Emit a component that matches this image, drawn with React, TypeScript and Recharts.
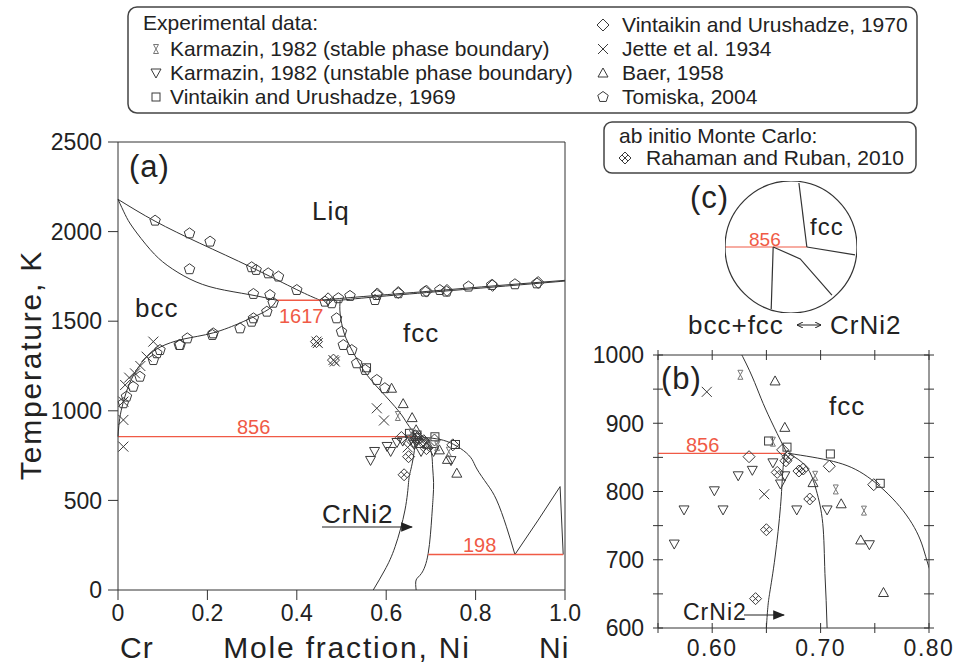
import React from "react";
import { ComposedChart, Line, Scatter, XAxis, YAxis, ReferenceDot } from "recharts";

// phase boundaries: [mole fraction Ni, temperature K]
const liquidusCr = [[0, 2180], [0.083, 2058], [0.183, 1935], [0.299, 1800], [0.4, 1676], [0.452, 1617]];
const solidusBcc = [[0, 2180], [0.016, 2095], [0.034, 2020], [0.072, 1900], [0.11, 1812], [0.161, 1735], [0.22, 1683], [0.295, 1648], [0.355, 1617]];
const liquidusNi = [[0.452, 1617], [0.55, 1638], [0.7, 1668], [0.85, 1699], [1, 1728]];
const solidusFcc = [[0.497, 1617], [0.6, 1641], [0.75, 1672], [0.9, 1703], [1, 1724]];
const eutecticBlack = [[0.452, 1617], [0.497, 1617]];
const bccSolvus = [[0.355, 1617], [0.336, 1565], [0.3, 1520], [0.273, 1490], [0.213, 1435], [0.146, 1400], [0.094, 1355], [0.06, 1290], [0.035, 1200], [0.018, 1100], [0.007, 1000], [0.002, 920], [0, 856]];
const fccSolvus = [[0.497, 1617], [0.497, 1540], [0.505, 1440], [0.519, 1360], [0.549, 1228], [0.586, 1116], [0.628, 998], [0.647, 929], [0.669, 856]];
const crNi2Left = [[0.667, 856], [0.665, 827], [0.663, 778], [0.658, 704], [0.653, 651], [0.65, 600], [0.642, 446], [0.62, 242], [0.597, 112], [0.571, 0]];
const crNi2Right = [[0.67, 856], [0.687, 836], [0.696, 802], [0.702, 753], [0.704, 680], [0.706, 600], [0.705, 520], [0.702, 409], [0.694, 205], [0.679, 93], [0.667, 56], [0.667, 0]];
const fccNiSide = [[0.67, 856], [0.712, 844], [0.743, 822], [0.773, 778], [0.792, 729], [0.803, 675], [0.826, 590], [0.847, 502], [0.869, 353], [0.888, 198]];
const magnetic = [[0.888, 198], [0.94, 390], [0.989, 577], [0.996, 198]];
const red1617 = [[0.355, 1617], [0.458, 1617]];
const red856 = [[0, 856], [0.668, 856]];
const red198 = [[0.694, 198], [0.996, 198]];

// experimental data
const karmazinStable = [[0.626, 971], [0.656, 873], [0.695, 823], [0.714, 803], [0.74, 772]];
const karmazinUnstable = [[0.565, 723], [0.574, 773], [0.602, 801], [0.61, 773], [0.624, 823], [0.637, 831], [0.656, 842], [0.663, 811], [0.667, 823], [0.678, 773], [0.706, 773], [0.745, 722]];
const vintaikin1969 = [[0.556, 1240], [0.652, 874], [0.669, 865], [0.709, 855], [0.755, 812]];
const vintaikin1970 = [[0.634, 851], [0.665, 861], [0.708, 837], [0.749, 810], [0.47, 1625], [0.58, 1652], [0.627, 1660], [0.69, 1668], [0.736, 1672], [0.838, 1700], [0.94, 1716], [0.444, 1386], [0.482, 1283]];
const jette = [[0.595, 946], [0.648, 796], [0.079, 1386], [0.064, 1302], [0.05, 1250], [0.038, 1209], [0.025, 1185], [0.016, 1144], [0.012, 1051], [0.012, 949], [0.012, 800], [0.444, 1386], [0.447, 1378], [0.482, 1283], [0.485, 1275], [0.579, 1014]];
const baer = [[0.658, 962], [0.667, 894], [0.693, 813], [0.719, 782], [0.737, 729], [0.758, 652], [0.612, 1126], [0.638, 1040]];
const tomiska = [
  [0.083, 2061], [0.16, 1990], [0.206, 1944], [0.16, 1790], [0.299, 1801], [0.309, 1786], [0.336, 1767], [0.359, 1749], [0.4, 1674],
  [0.303, 1652], [0.34, 1646], [0.347, 1603],
  [0.333, 1553], [0.303, 1516], [0.299, 1497], [0.273, 1460], [0.213, 1432], [0.211, 1423], [0.155, 1404], [0.137, 1367], [0.087, 1321],
  [0.139, 1367], [0.094, 1339], [0.079, 1283], [0.049, 1190], [0.034, 1134], [0.019, 1079], [0.012, 1042],
  [0.463, 1609], [0.478, 1600], [0.493, 1628], [0.519, 1641], [0.579, 1646], [0.575, 1618], [0.627, 1656], [0.687, 1665], [0.72, 1674], [0.735, 1665], [0.784, 1693], [0.836, 1702], [0.888, 1706], [0.937, 1711],
  [0.489, 1516], [0.5, 1441], [0.504, 1367], [0.523, 1339], [0.534, 1265], [0.553, 1228], [0.579, 1172], [0.597, 1126],
];
const rahaman = [[0.67, 851], [0.668, 845], [0.66, 828], [0.68, 830], [0.684, 833], [0.69, 789], [0.65, 744], [0.64, 643]];

// inset (c) sketch, unit circle coordinates
const cRed = [[-1, 0], [0.24, 0]];
const cFccUp = [[0.24, 0], [0.12, 0.97]];
const cFccRight = [[0.24, 0], [0.97, -0.12]];
const cBccDown = [[-0.27, 0], [-0.3, -0.94]];
const cCrNi2 = [[-0.27, 0], [0.14, -0.18], [0.62, -0.73]];

const xTicksA = [0, 0.2, 0.4, 0.6, 0.8, 1.0];
const yTicksA = [0, 500, 1000, 1500, 2000, 2500];
const xTicksB = [0.55, 0.6, 0.65, 0.7, 0.75, 0.8];
const xLabelsB = [0.6, 0.7, 0.8];
const yTicksB = [600, 650, 700, 750, 800, 850, 900, 950, 1000];
const yLabelsB = [600, 700, 800, 900, 1000];

const INK = "#333";
const RED = "#f05a46";
const SANS = "'Liberation Sans', Arial, sans-serif";

const pts = (a: number[][]) => a.map(([x, t]) => ({ x, t }));

function Marker({ kind, cx, cy }: { kind: string; cx: number; cy: number }) {
  const s = { fill: "none", stroke: "#3a3a3a", strokeWidth: 1 };
  switch (kind) {
    case "hour":
      return <polygon points={`${cx - 2.5},${cy - 4.5} ${cx + 2.5},${cy - 4.5} ${cx - 2.5},${cy + 4.5} ${cx + 2.5},${cy + 4.5}`} {...s} stroke="#777" />;
    case "tdown":
      return <polygon points={`${cx - 5},${cy - 4} ${cx + 5},${cy - 4} ${cx},${cy + 5}`} {...s} />;
    case "tup":
      return <polygon points={`${cx},${cy - 5} ${cx + 5},${cy + 4} ${cx - 5},${cy + 4}`} {...s} />;
    case "square":
      return <rect x={cx - 4} y={cy - 4} width={8} height={8} {...s} />;
    case "diamond":
      return <polygon points={`${cx},${cy - 6} ${cx + 6},${cy} ${cx},${cy + 6} ${cx - 6},${cy}`} {...s} />;
    case "cross":
      return (
        <g {...s}>
          <line x1={cx - 5} y1={cy - 5} x2={cx + 5} y2={cy + 5} />
          <line x1={cx - 5} y1={cy + 5} x2={cx + 5} y2={cy - 5} />
        </g>
      );
    case "pent": {
      const p = [0, 1, 2, 3, 4]
        .map((i) => {
          const a = -Math.PI / 2 + (i * 2 * Math.PI) / 5;
          return `${cx + 5.5 * Math.cos(a)},${cy + 5.5 * Math.sin(a)}`;
        })
        .join(" ");
      return <polygon points={p} {...s} />;
    }
    case "xdiamond":
      return (
        <g {...s}>
          <polygon points={`${cx},${cy - 6} ${cx + 6},${cy} ${cx},${cy + 6} ${cx - 6},${cy}`} />
          <line x1={cx + 3} y1={cy - 3} x2={cx - 3} y2={cy + 3} />
          <line x1={cx - 3} y1={cy - 3} x2={cx + 3} y2={cy + 3} />
        </g>
      );
  }
  return null;
}

const seriesSets = [
  { data: tomiska, kind: "pent" },
  { data: vintaikin1970, kind: "diamond" },
  { data: vintaikin1969, kind: "square" },
  { data: baer, kind: "tup" },
  { data: karmazinUnstable, kind: "tdown" },
  { data: karmazinStable, kind: "hour" },
  { data: jette, kind: "cross" },
  { data: rahaman, kind: "xdiamond" },
];

const blackLines = [liquidusCr, solidusBcc, liquidusNi, solidusFcc, eutecticBlack, bccSolvus, fccSolvus, crNi2Left, crNi2Right, fccNiSide, magnetic];
const redLines = [red1617, red856, red198];

function renderLines() {
  return [
    ...blackLines.map((d, i) => (
      <Line key={"b" + i} data={pts(d)} dataKey="t" type={d.length > 4 ? "natural" : "linear"} stroke={INK} strokeWidth={1} dot={false} isAnimationActive={false} />
    )),
    ...redLines.map((d, i) => (
      <Line key={"r" + i} data={pts(d)} dataKey="t" type="linear" stroke={RED} strokeWidth={1.3} dot={false} isAnimationActive={false} />
    )),
  ];
}

function renderScatters() {
  return seriesSets.map((s) => (
    <Scatter key={s.kind} data={pts(s.data)} dataKey="t" isAnimationActive={false} shape={(p: any) => <Marker kind={s.kind} cx={p.cx} cy={p.cy} />} />
  ));
}

const noLabel = () => <g />;

// crossing ticks for panel (b)
const TS = 5;
const TM = 5;
const has = (list: number[], v: number) => list.some((l) => Math.abs(l - v) < 1e-9);
const tickB = (side: string, labels: number[], fmt: (v: number) => string) => (props: any) => {
  const { x, y, payload } = props;
  const v = payload.value;
  const show = has(labels, v);
  const txt = { fontSize: 23, fill: "#222", fontFamily: SANS };
  if (side === "bottom") {
    const ay = y - TS - TM;
    return (
      <g>
        <line x1={x} x2={x} y1={ay - TS} y2={ay + TS} stroke={INK} />
        {show && <text x={x} y={y} dy="0.78em" textAnchor="middle" letterSpacing={1.5} {...txt}>{fmt(v)}</text>}
      </g>
    );
  }
  if (side === "top") {
    const ay = y + TS + TM;
    return <line x1={x} x2={x} y1={ay - TS} y2={ay + TS} stroke={INK} />;
  }
  if (side === "left") {
    const ax = x + TS + TM;
    return (
      <g>
        <line x1={ax - TS} x2={ax + TS} y1={y} y2={y} stroke={INK} />
        {show && <text x={x - 4} y={y} dy="0.36em" textAnchor="end" {...txt}>{fmt(v)}</text>}
      </g>
    );
  }
  const ax = x - TS - TM;
  return <line x1={ax - TS} x2={ax + TS} y1={y} y2={y} stroke={INK} />;
};

function PanelA() {
  const tickStyle = { fontSize: 23, fill: "#222", fontFamily: SANS };
  return (
    <ComposedChart width={600} height={666} margin={{ top: 132, right: 25, bottom: 36, left: 58 }}>
      <XAxis dataKey="x" type="number" domain={[0, 1]} ticks={xTicksA} interval={0} tickSize={10} tickMargin={5} height={40} stroke={INK} tick={tickStyle} tickFormatter={(v: number) => (v === 0 ? "0" : v.toFixed(1))} />
      <XAxis xAxisId="top" orientation="top" dataKey="x" type="number" domain={[0, 1]} ticks={xTicksA} interval={0} tickSize={10} height={10} stroke={INK} tick={noLabel} />
      <YAxis dataKey="t" type="number" domain={[0, 2500]} ticks={yTicksA} interval={0} tickSize={10} tickMargin={6} width={60} stroke={INK} tick={tickStyle} />
      <YAxis yAxisId="right" orientation="right" dataKey="t" type="number" domain={[0, 2500]} ticks={yTicksA} interval={0} tickSize={10} width={10} stroke={INK} tick={noLabel} />
      {renderLines()}
      {renderScatters()}
    </ComposedChart>
  );
}

function PanelB() {
  return (
    <ComposedChart width={365} height={336} margin={{ top: 20, right: 20, bottom: 8, left: 18 }}>
      <XAxis dataKey="x" type="number" domain={[0.55, 0.8]} allowDataOverflow ticks={xTicksB} interval={0} tickSize={TS} tickMargin={TM} tickLine={false} height={30} stroke={INK} tick={tickB("bottom", xLabelsB, (v) => v.toFixed(2))} />
      <XAxis xAxisId="top" orientation="top" dataKey="x" type="number" domain={[0.55, 0.8]} allowDataOverflow ticks={xTicksB} interval={0} tickSize={TS} tickMargin={TM} tickLine={false} height={5} stroke={INK} tick={tickB("top", [], String)} />
      <YAxis dataKey="t" type="number" domain={[600, 1000]} allowDataOverflow ticks={yTicksB} interval={0} tickSize={TS} tickMargin={TM} tickLine={false} width={50} stroke={INK} tick={tickB("left", yLabelsB, String)} />
      <YAxis yAxisId="right" orientation="right" dataKey="t" type="number" domain={[600, 1000]} allowDataOverflow ticks={yTicksB} interval={0} tickSize={TS} tickMargin={TM} tickLine={false} width={6} stroke={INK} tick={tickB("right", [], String)} />
      {renderLines()}
      {renderScatters()}
    </ComposedChart>
  );
}

function PanelC() {
  const ln = (d: number[][], color: string, k: string) => (
    <Line key={k} data={pts(d)} dataKey="t" type="linear" stroke={color} strokeWidth={1.2} dot={false} isAnimationActive={false} />
  );
  return (
    <ComposedChart width={132} height={132} margin={{ top: 0, right: 0, bottom: 0, left: 0 }}>
      <XAxis dataKey="x" type="number" domain={[-1, 1]} hide />
      <YAxis dataKey="t" type="number" domain={[-1, 1]} hide />
      <ReferenceDot x={0} y={0} r={66} fill="none" stroke={INK} strokeWidth={1.2} />
      {ln(cRed, RED, "red")}
      {ln(cFccUp, INK, "a")}
      {ln(cFccRight, INK, "b")}
      {ln(cBccDown, INK, "c")}
      {ln(cCrNi2, INK, "d")}
    </ComposedChart>
  );
}

function Overlay() {
  const lg = { fontSize: 21, fill: "#222", fontFamily: SANS };
  const lbl = { fill: "#222", fontFamily: SANS, letterSpacing: 1 };
  const rd = { fill: RED, fontFamily: SANS, fontSize: 20 };
  return (
    <svg width={955} height={666} style={{ position: "absolute", left: 0, top: 0, pointerEvents: "none" }}>
      <defs>
        <marker id="arr" markerWidth="10" markerHeight="8" refX="9" refY="4" orient="auto">
          <path d="M0,0 L10,4 L0,8 z" fill="#222" />
        </marker>
        <marker id="arrS" markerWidth="7" markerHeight="6" refX="6" refY="3" orient="auto-start-reverse">
          <path d="M0,0 L6,3 L0,6" fill="none" stroke="#222" strokeWidth={1} />
        </marker>
      </defs>
      {/* legend, experimental data */}
      <rect x={128} y={7} width={789} height={106} rx={9} fill="none" stroke="#444" strokeWidth={1.5} />
      <text x={143} y={30} {...lg}>Experimental data:</text>
      <Marker kind="hour" cx={156} cy={49} />
      <text x={170} y={56} {...lg}>Karmazin, 1982 (stable phase boundary)</text>
      <Marker kind="tdown" cx={156} cy={73} />
      <text x={170} y={80} {...lg}>Karmazin, 1982 (unstable phase boundary)</text>
      <Marker kind="square" cx={156} cy={97} />
      <text x={170} y={104} {...lg}>Vintaikin and Urushadze, 1969</text>
      <Marker kind="diamond" cx={603} cy={25} />
      <text x={622} y={32} {...lg}>Vintaikin and Urushadze, 1970</text>
      <Marker kind="cross" cx={603} cy={49} />
      <text x={622} y={56} {...lg}>Jette et al. 1934</text>
      <Marker kind="tup" cx={603} cy={73} />
      <text x={622} y={80} {...lg}>Baer, 1958</text>
      <Marker kind="pent" cx={603} cy={97} />
      <text x={622} y={104} {...lg}>Tomiska, 2004</text>
      {/* legend, ab initio */}
      <rect x={604} y={122} width={312} height={51} rx={8} fill="none" stroke="#444" strokeWidth={1.5} />
      <text x={619} y={143} {...lg}>ab initio Monte Carlo:</text>
      <Marker kind="xdiamond" cx={625} cy={158} />
      <text x={646} y={165} {...lg}>Rahaman and Ruban, 2010</text>

      {/* panel (a) */}
      <text x={129} y={177} fontSize={31} {...lbl}>(a)</text>
      <text x={312} y={220} fontSize={26} {...lbl}>Liq</text>
      <text x={135} y={317} fontSize={26} {...lbl}>bcc</text>
      <text x={403} y={342} fontSize={26} {...lbl}>fcc</text>
      <text x={279} y={323} {...rd}>1617</text>
      <text x={237} y={434} {...rd}>856</text>
      <text x={463} y={552} {...rd}>198</text>
      <text x={322} y={523} fontSize={26} {...lbl}>CrNi2</text>
      <line x1={322} y1={527} x2={412} y2={527} stroke="#222" strokeWidth={1.2} markerEnd="url(#arr)" />
      <text x={30} y={365} fontSize={30} textAnchor="middle" transform="rotate(-90 30 365)" fill="#222" fontFamily={SANS} letterSpacing={1.8} dy="0.35em">Temperature, K</text>
      <text x={347} y={658} fontSize={30} textAnchor="middle" fill="#222" fontFamily={SANS} letterSpacing={1.8}>Mole fraction, Ni</text>
      <text x={120} y={658} fontSize={30} {...lbl}>Cr</text>
      <text x={539} y={658} fontSize={30} {...lbl}>Ni</text>

      {/* panel (b) */}
      <text x={661} y={389} fontSize={31} {...lbl}>(b)</text>
      <text x={829} y={415} fontSize={26} {...lbl}>fcc</text>
      <text x={686} y={452} {...rd}>856</text>
      <text x={683} y={620} fontSize={23} {...lbl}>CrNi2</text>
      <line x1={744} y1={615} x2={784} y2={615} stroke="#222" strokeWidth={1.2} markerEnd="url(#arr)" />

      {/* panel (c) */}
      <text x={690} y={208} fontSize={31} {...lbl}>(c)</text>
      <text x={810} y={235} fontSize={24} {...lbl}>fcc</text>
      <text x={749} y={246} fontSize={19} fill={RED} fontFamily={SANS}>856</text>
      <text x={688} y={334} fontSize={26} {...lbl}>bcc+fcc</text>
      <line x1={797} y1={325} x2={821} y2={325} stroke="#222" strokeWidth={1} markerStart="url(#arrS)" markerEnd="url(#arrS)" />
      <text x={830} y={334} fontSize={26} {...lbl}>CrNi2</text>
    </svg>
  );
}

export default function App() {
  return (
    <div style={{ position: "absolute", left: 0, top: 0, width: 955, height: 666, background: "#fff", fontFamily: SANS }}>
      <div style={{ position: "absolute", left: 0, top: 0 }}>
        <PanelA />
      </div>
      <div style={{ position: "absolute", left: 590, top: 330 }}>
        <PanelB />
      </div>
      <div style={{ position: "absolute", left: 725, top: 181 }}>
        <PanelC />
      </div>
      <Overlay />
    </div>
  );
}
